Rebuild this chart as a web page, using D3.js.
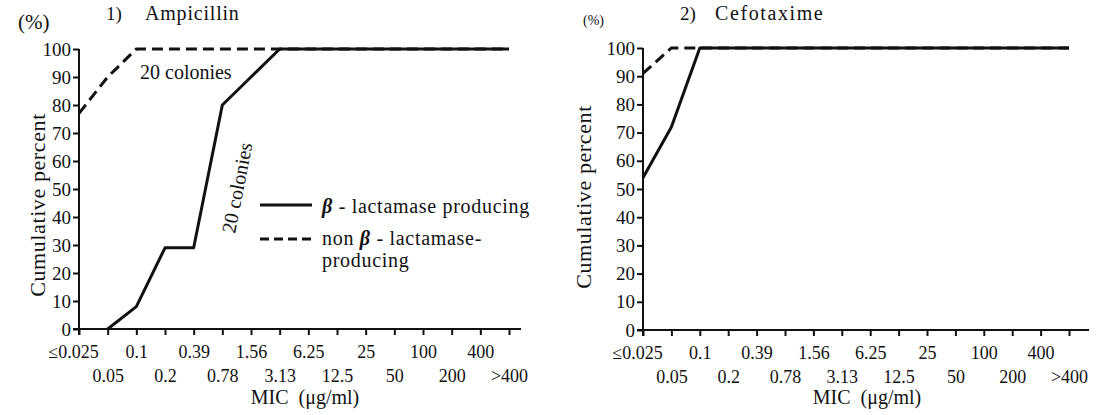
<!DOCTYPE html>
<html lang="en">
<head>
    <meta charset="UTF-8">
    <title>MIC cumulative percent</title>
    <style>
        body { margin: 0; background: #fff; }
        svg text { font-family: "Liberation Serif", serif; fill: #111; }
    </style>
    <script src="https://d3js.org/d3.v7.min.js"></script>
</head>
<body>
    <svg width="1111" height="415"></svg>
    <script>
        // MIC categories (ug/ml)
        const categories = ["≤0.025", "0.05", "0.1", "0.2", "0.39", "0.78", "1.56", "3.13",
            "6.25", "12.5", "25", "50", "100", "200", "400", ">400"];
        const yTicks = [0, 10, 20, 30, 40, 50, 60, 70, 80, 90, 100];

        // cumulative percent, one value per category (null = not plotted)
        const ampProducing = [null, 0, 8, 29, 29, 80, 90, 100, 100, 100, 100, 100, 100, 100, 100, 100];
        const ampNonProducing = [77, 90, 100, 100, 100, 100, 100, 100, 100, 100, 100, 100, 100, 100, 100, 100];
        const cefProducing = [54, 72, 100, 100, 100, 100, 100, 100, 100, 100, 100, 100, 100, 100, 100, 100];
        const cefNonProducing = [91, 100, 100, 100, 100, 100, 100, 100, 100, 100, 100, 100, 100, 100, 100, 100];

        const svg = d3.select("svg");

        function panel(opts) {
            const x = d3.scalePoint().domain(categories).range([opts.x0, opts.x1]);
            const y = d3.scaleLinear().domain([0, 100]).range([opts.y0, opts.y1]);
            const g = svg.append("g");

            // x axis
            const xa = g.append("g")
                .attr("transform", `translate(0,${opts.y0})`)
                .call(d3.axisBottom(x).tickSize(6).tickSizeOuter(0));
            xa.select(".domain").remove();
            xa.selectAll("line").attr("stroke", "#111").attr("stroke-width", 2);
            xa.selectAll("text")
                .attr("font-family", "Liberation Serif")
                .attr("font-size", 18)
                .attr("y", 0)
                .attr("dy", (d, i) => i % 2 ? 53 : 29)
                .attr("dx", (d, i) => i === 0 ? -6 : 0);
            g.append("line")
                .attr("x1", opts.x0 - 6).attr("x2", opts.x1 + opts.ext)
                .attr("y1", opts.y0).attr("y2", opts.y0)
                .attr("stroke", "#111").attr("stroke-width", 2);

            // y axis
            const ya = g.append("g")
                .attr("transform", `translate(${opts.x0},0)`)
                .call(d3.axisLeft(y).tickValues(yTicks).tickSize(6).tickSizeOuter(0));
            ya.select(".domain").remove();
            ya.selectAll("line").attr("stroke", "#111").attr("stroke-width", 2);
            ya.selectAll("text")
                .attr("font-family", "Liberation Serif")
                .attr("font-size", 19)
                .attr("x", -8);
            g.append("line")
                .attr("x1", opts.x0).attr("x2", opts.x0)
                .attr("y1", y(100)).attr("y2", opts.y0 + 6)
                .attr("stroke", "#111").attr("stroke-width", 2);

            const line = d3.line()
                .defined(d => d[1] != null)
                .x(d => x(d[0]))
                .y(d => y(d[1]));

            g.append("path")
                .datum(categories.map((c, i) => [c, opts.non[i]]))
                .attr("d", line)
                .attr("fill", "none").attr("stroke", "#111")
                .attr("stroke-width", 3).attr("stroke-dasharray", "11,6");
            g.append("path")
                .datum(categories.map((c, i) => [c, opts.prod[i]]))
                .attr("d", line)
                .attr("fill", "none").attr("stroke", "#111")
                .attr("stroke-width", 3).attr("stroke-linejoin", "round");

            // labels
            g.append("text")
                .attr("x", (opts.x0 + opts.x1) / 2 + opts.micDx).attr("y", 404)
                .attr("text-anchor", "middle").attr("font-size", 20)
                .attr("xml:space", "preserve")
                .text("MIC  (μg/ml)");
            g.append("text")
                .attr("transform", `translate(${opts.ylabX},${opts.ylabY}) rotate(-90)`)
                .attr("text-anchor", "middle").attr("font-size", 22)
                .attr("letter-spacing", 0.6)
                .text("Cumulative percent");
            g.append("text")
                .attr("x", opts.pctX).attr("y", opts.pctY)
                .attr("font-size", opts.pctSize)
                .text("(%)");
            g.append("text")
                .attr("x", opts.numX).attr("y", 20).attr("font-size", 19)
                .text(opts.num);
            g.append("text")
                .attr("x", opts.titleX).attr("y", 20).attr("font-size", 20)
                .attr("letter-spacing", opts.titleSpacing)
                .text(opts.title);
            return { g, x, y };
        }

        const left = panel({
            x0: 79, x1: 509, y0: 329, y1: 49, ext: 12,
            prod: ampProducing, non: ampNonProducing,
            micDx: 11, ylabX: 45, ylabY: 205,
            pctX: 18, pctY: 29, pctSize: 21,
            num: "1)", numX: 106, title: "Ampicillin", titleX: 145, titleSpacing: 0.8
        });

        const right = panel({
            x0: 643, x1: 1069, y0: 330, y1: 48, ext: 20,
            prod: cefProducing, non: cefNonProducing,
            micDx: 11, ylabX: 591, ylabY: 197,
            pctX: 583, pctY: 25, pctSize: 14,
            num: "2)", numX: 680, title: "Cefotaxime", titleX: 715, titleSpacing: 1.6
        });

        // annotations (left panel)
        left.g.append("text")
            .attr("x", 140).attr("y", 79).attr("font-size", 20)
            .text("20 colonies");
        left.g.append("text")
            .attr("transform", "translate(235,234) rotate(-79)")
            .attr("font-size", 20)
            .text("20 colonies");

        // legend
        function legendText(xp, yp, before, after) {
            const t = left.g.append("text").attr("x", xp).attr("y", yp)
                .attr("font-size", 20).attr("letter-spacing", 0.7)
                .attr("xml:space", "preserve");
            if (before) t.append("tspan").text(before);
            t.append("tspan").attr("font-style", "italic").attr("font-weight", "bold").text("β");
            t.append("tspan").text(after);
        }
        left.g.append("line")
            .attr("x1", 260).attr("x2", 312).attr("y1", 205).attr("y2", 205)
            .attr("stroke", "#111").attr("stroke-width", 3);
        legendText(322, 213, "", " - lactamase producing");
        left.g.append("line")
            .attr("x1", 260).attr("x2", 312).attr("y1", 239).attr("y2", 239)
            .attr("stroke", "#111").attr("stroke-width", 3).attr("stroke-dasharray", "9,5");
        legendText(322, 245, "non ", " - lactamase-");
        left.g.append("text").attr("x", 322).attr("y", 267).attr("font-size", 20)
            .attr("letter-spacing", 0.7)
            .text("producing");
    </script>
</body>
</html>
